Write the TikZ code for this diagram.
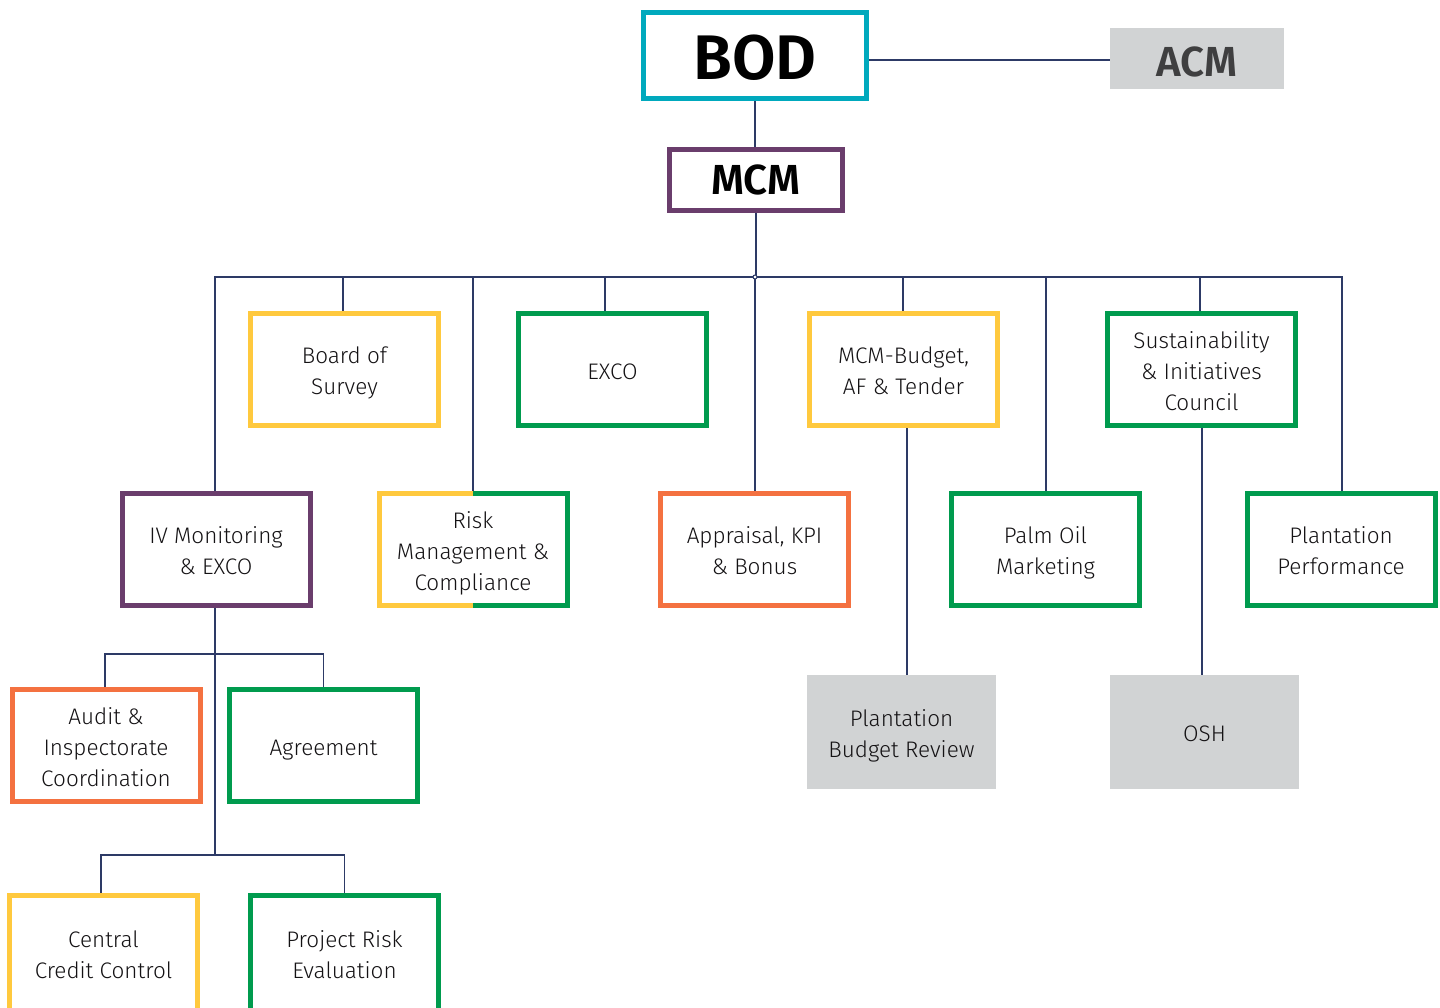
\documentclass[tikz,border=0pt]{standalone}
\usepackage{fontspec}
\setmainfont{Fira Sans}[UprightFont=* Light, BoldFont=* SemiBold]
\usetikzlibrary{backgrounds}
\definecolor{cteal}{HTML}{00A9BD}
\definecolor{cpurp}{HTML}{6A3D6C}
\definecolor{cyel}{HTML}{FFC93E}
\definecolor{cgrn}{HTML}{009B4E}
\definecolor{corg}{HTML}{F47140}
\definecolor{cgray}{HTML}{D1D3D4}
\definecolor{cnavy}{HTML}{2D3A66}
\definecolor{ctxt}{HTML}{141214}
\definecolor{cdark}{HTML}{3F3F40}
\newcommand\tS{\rule{0pt}{25pt}}
\newcommand\tE{\rule[-6pt]{0pt}{6pt}}
\begin{document}
\begin{tikzpicture}[x=1pt,y=-1pt,
  box/.style={rectangle, line width=5pt, minimum width=188pt, minimum height=112pt,
    align=center, inner sep=0pt, fill=white, text=ctxt,
    font=\fontsize{22.5}{31}\selectfont},
  ybox/.style={box, draw=cyel},
  gbox/.style={box, draw=cgrn},
  obox/.style={box, draw=corg},
  pbox/.style={box, draw=cpurp},
  greybox/.style={rectangle, fill=cgray, minimum width=189pt, minimum height=114pt,
    align=center, inner sep=0pt, text=ctxt, font=\fontsize{22.5}{31}\selectfont},
  conn/.style={draw=cnavy, line width=1.3pt}]
\useasboundingbox (0,0) rectangle (1440,1008);

% top
\node[box, draw=cteal, minimum width=223pt, minimum height=86pt, text=black,
  font=\fontsize{63}{63}\selectfont\bfseries] (bod) at (755,55.5) {\rule{0pt}{49pt}BOD};
\node[rectangle, fill=cgray, minimum width=174pt, minimum height=61pt, inner sep=0pt,
  text=cdark, font=\fontsize{42}{42}\selectfont\bfseries] (acm) at (1197,58.5) {\rule{0pt}{37pt}ACM};
\node[box, draw=cpurp, minimum width=173pt, minimum height=61pt, text=black,
  font=\fontsize{42}{42}\selectfont\bfseries] (mcm) at (756,180) {MCM};

% row 1
\node[ybox] (bos) at (344.5,369.5) {\tS Board of\\Survey\tE};
\node[gbox] (exco) at (612.5,369.5) {\tS EXCO\tE};
\node[ybox] (mcmb) at (903.5,369.5) {\tS MCM-Budget,\\AF \& Tender\tE};
\node[gbox] (sic) at (1201.5,369.5) {\tS Sustainability\\\& Initiatives\\Council\tE};

% row 2
\node[pbox] (ivm) at (216,549.5) {\tS IV Monitoring\\\& EXCO\tE};
\node[box, outer sep=0pt] (risk) at (473,549.5) {\tS Risk\\Management \&\\Compliance\tE};
\draw[cyel, line width=5pt] (risk.north) -| (risk.south west) -- (risk.south);
\draw[cgrn, line width=5pt] (risk.north) -| (risk.south east) -- (risk.south);
\node[obox] (apr) at (754.5,549.5) {\tS Appraisal, KPI\\\& Bonus\tE};
\node[gbox] (pom) at (1045.5,549.5) {\tS Palm Oil\\Marketing\tE};
\node[gbox] (pp) at (1341,549.5) {\tS Plantation\\Performance\tE};

% grey boxes
\node[greybox] (pbr) at (901.5,732) {\tS Plantation\\Budget Review\tE};
\node[greybox] (osh) at (1204.5,732) {\tS OSH\tE};

% left lower
\node[obox] (aud) at (106,745.5) {\tS Audit \&\\Inspectorate\\Coordination\tE};
\node[gbox] (agr) at (323.5,745.5) {\tS Agreement\tE};
\node[ybox, minimum height=116pt] (ccc) at (103.5,953) {\tS Central\\Credit Control\tE};
\node[gbox, minimum height=116pt] (pre) at (344.5,953) {\tS Project Risk\\Evaluation\tE};

\coordinate (jn) at (755,277);
\coordinate (j1) at (215,654);
\coordinate (j2) at (215,855);

\begin{pgfonlayer}{background}
\draw[conn] ([yshift=-1.5pt]acm.west -| bod.east) -- ([yshift=-1.5pt]acm.west);
\draw[conn] (bod.south) -- (bod.south |- mcm.north);
\draw[conn] (mcm.south) -- (mcm.south |- jn);
\draw[conn] ([xshift=-1pt]ivm.north) |- (jn) -| ([xshift=1pt]pp.north);
\draw[conn] ([xshift=-1.5pt]bos.north) -- ([xshift=-1.5pt]bos.north |- jn);
\draw[conn] (risk.north) -- (risk.north |- jn);
\draw[conn] ([xshift=-7.5pt]exco.north) -- ([xshift=-7.5pt]exco.north |- jn);
\draw[conn] ([xshift=0.5pt]apr.north) -- ([xshift=0.5pt]apr.north |- jn);
\draw[conn] ([xshift=-0.5pt]mcmb.north) -- ([xshift=-0.5pt]mcmb.north |- jn);
\draw[conn] ([xshift=0.5pt]pom.north) -- ([xshift=0.5pt]pom.north |- jn);
\draw[conn] ([xshift=-1.5pt]sic.north) -- ([xshift=-1.5pt]sic.north |- jn);
\draw[conn] ([xshift=3.5pt]mcmb.south) -- ([xshift=3.5pt]mcmb.south |- pbr.north);
\draw[conn] ([xshift=0.5pt]sic.south) -- ([xshift=0.5pt]sic.south |- osh.north);
\draw[conn] ([xshift=-1pt]ivm.south) -- (j2);
\draw[conn] ([xshift=-1pt]aud.north) |- (j1) -| (agr.north);
\draw[conn] ([xshift=-2.5pt]ccc.north) |- (j2) -| (pre.north);
\end{pgfonlayer}
\node[circle, draw=cnavy, fill=white, line width=1pt, inner sep=0pt, minimum size=4pt] (jdot) at (jn) {};
\end{tikzpicture}
\end{document}
